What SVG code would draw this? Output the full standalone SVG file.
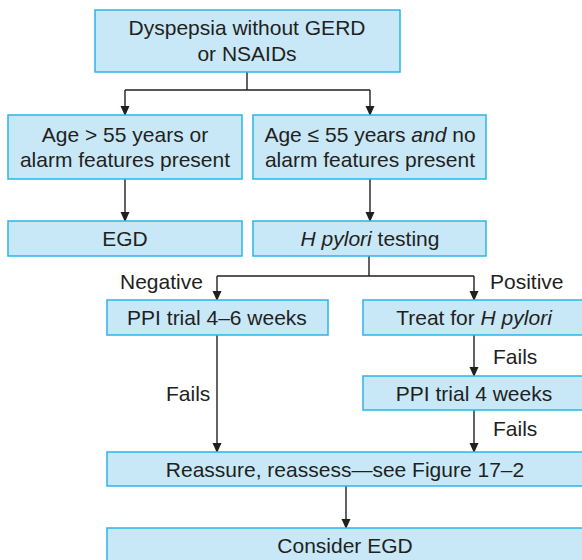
<svg xmlns="http://www.w3.org/2000/svg" width="582" height="560" viewBox="0 0 582 560">
<defs>
<style>
.box{fill:#c8e8f8;stroke:#2bb5e8;stroke-width:1.5}
.t{font-family:"Liberation Sans",Arial,sans-serif;font-size:21px;fill:#231f20;text-anchor:middle}
.l{font-family:"Liberation Sans",Arial,sans-serif;font-size:21px;fill:#231f20}
.c{fill:none;stroke:#231f20;stroke-width:1.4}
</style>
<marker id="ah" markerWidth="10" markerHeight="14" refX="9" refY="4.5" orient="auto" markerUnits="userSpaceOnUse" viewBox="0 0 10 9">
<path d="M0,0 L10,4.5 L0,9 Z" fill="#231f20"/>
</marker>
</defs>
<rect width="582" height="560" fill="#ffffff"/>
<g id="connectors">
<path class="c" d="M247,72 V90 M125,90 H370"/>
<path class="c" d="M125,90 V115" marker-end="url(#ah)"/>
<path class="c" d="M370,90 V115" marker-end="url(#ah)"/>
<path class="c" d="M125,179 V221" marker-end="url(#ah)"/>
<path class="c" d="M370,179 V221" marker-end="url(#ah)"/>
<path class="c" d="M369,256 V276 M217,276 H474"/>
<path class="c" d="M217,276 V300" marker-end="url(#ah)"/>
<path class="c" d="M474,276 V300" marker-end="url(#ah)"/>
<path class="c" d="M474,335 V376" marker-end="url(#ah)"/>
<path class="c" d="M217,335 V452" marker-end="url(#ah)"/>
<path class="c" d="M474,410 V452" marker-end="url(#ah)"/>
<path class="c" d="M346,486 V528" marker-end="url(#ah)"/>
<text class="l" x="120" y="289">Negative</text>
<text class="l" x="490" y="289">Positive</text>
<text class="l" x="493" y="364">Fails</text>
<text class="l" x="166" y="401">Fails</text>
<text class="l" x="493" y="436">Fails</text>
</g>
<g id="n1">
<rect class="box" x="95" y="10" width="305" height="62"/>
<text class="t" x="247" y="35">Dyspepsia without GERD</text>
<text class="t" x="247" y="61">or NSAIDs</text>
</g>
<g id="n2">
<rect class="box" x="8" y="115" width="234" height="64"/>
<text class="t" x="125" y="142">Age &gt; 55 years or</text>
<text class="t" x="125" y="167">alarm features present</text>
</g>
<g id="n3">
<rect class="box" x="253" y="115" width="233" height="64"/>
<text class="t" x="370" y="142">Age ≤ 55 years <tspan font-style="italic">and</tspan> no</text>
<text class="t" x="370" y="167">alarm features present</text>
</g>
<g id="n4">
<rect class="box" x="8" y="221" width="234" height="35"/>
<text class="t" x="125" y="246">EGD</text>
</g>
<g id="n5">
<rect class="box" x="253" y="221" width="233" height="35"/>
<text class="t" x="370" y="246"><tspan font-style="italic">H pylori</tspan> testing</text>
</g>
<g id="n6">
<rect class="box" x="107" y="300" width="221" height="35"/>
<text class="t" x="217" y="325">PPI trial 4–6 weeks</text>
</g>
<g id="n7">
<rect class="box" x="363" y="300" width="222" height="35"/>
<text class="t" x="474" y="325">Treat for <tspan font-style="italic">H pylori</tspan></text>
</g>
<g id="n8">
<rect class="box" x="363" y="376" width="222" height="34"/>
<text class="t" x="474" y="401">PPI trial 4 weeks</text>
</g>
<g id="n9">
<rect class="box" x="107" y="452" width="478" height="34"/>
<text class="t" x="345" y="477">Reassure, reassess—see Figure 17–2</text>
</g>
<g id="n10">
<rect class="box" x="107" y="528" width="478" height="40"/>
<text class="t" x="345" y="553">Consider EGD</text>
</g>
</svg>
